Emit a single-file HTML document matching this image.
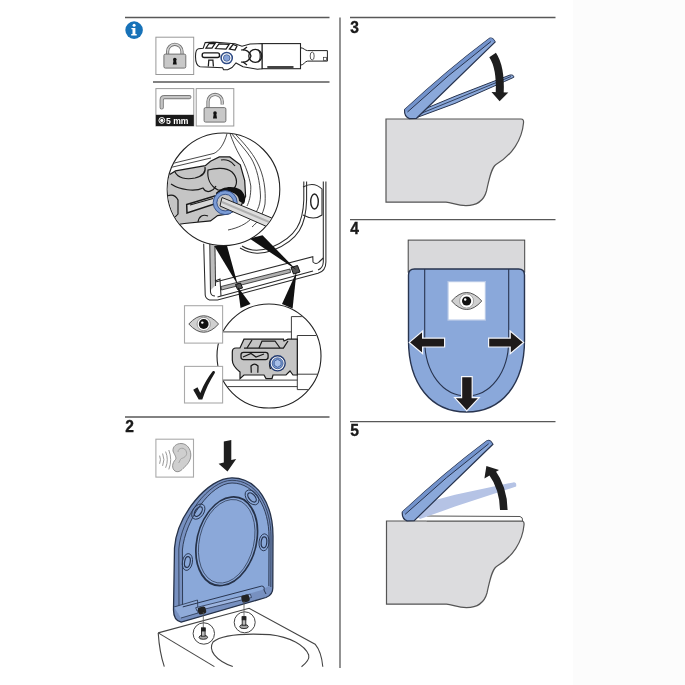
<!DOCTYPE html>
<html><head><meta charset="utf-8">
<style>
html,body{margin:0;padding:0;background:#fff;width:685px;height:685px;overflow:hidden}
svg{display:block}
text{font-family:"Liberation Sans",sans-serif;font-weight:bold}
svg{will-change:transform;filter:blur(0.35px)}
</style></head>
<body>
<svg width="685" height="685" viewBox="0 0 685 685">
<rect x="573" y="0" width="112" height="685" fill="#fcfcfc"/>
<!-- grid lines -->
<g stroke="#585858" stroke-width="1.3" fill="none">
<line x1="125" y1="17.5" x2="329.5" y2="17.5"/>
<line x1="350" y1="17.5" x2="555.5" y2="17.5"/>
<line x1="340" y1="17.5" x2="340" y2="668"/>
<line x1="153" y1="82" x2="329.5" y2="82"/>
<line x1="125" y1="417" x2="329.5" y2="417"/>
<line x1="350" y1="219.6" x2="555.5" y2="219.6"/>
<line x1="350" y1="421.6" x2="555.5" y2="421.6"/>
</g>
<g fill="#1a1a1a" font-size="15.6" stroke="#1a1a1a" stroke-width="0.35">
<text x="350.2" y="32.8">3</text>
<text x="350.2" y="234.2">4</text>
<text x="350.2" y="436.4">5</text>
<text x="125.2" y="432.2">2</text>
</g>

<!-- info icon -->
<circle cx="134.1" cy="30.1" r="8.8" fill="#1772b8"/>
<circle cx="134.1" cy="25.2" r="1.5" fill="#fff"/>
<path d="M131.4,28 h4 v6.1 h1.3 v1.3 h-5.5 v-1.3 h1.3 v-4.8 h-1.1z" fill="#fff"/>

<!-- STEP 3 -->
<defs>
<g id="body">
<path d="M386,119 L521,119 Q524,119 523.5,123 C522,140 512,155 496,164.5 C491,168 489,180 486.5,191 C484,200 477,205.6 466,205.6 C457,205.6 452,202.5 446,202.2 L386,202.2 Z" fill="#dcdcde" stroke="#555" stroke-width="1.2"/>
</g>
<g id="lid">
<path d="M404.6,109.8 Q446,71 489.4,38.4 Q492.5,37 495.2,42 L416.5,118.3 L409.4,118.6 Q404,116.5 404.6,109.8 Z" fill="#8aa8da" stroke="#28344f" stroke-width="1.2"/>
<path d="M404.6,109.8 Q446,71 489.4,38.4 Q492.5,37 494.9,42 L491,41.5 Q448.5,74 407.5,112 Z" fill="#7393cc"/>
<path d="M407.5,112 Q448.5,74 491,41.5" fill="none" stroke="#28344f" stroke-width="1"/>
</g>
</defs>
<g id="s3">
<use href="#body"/>
<!-- seat -->
<path d="M416.9,117.5 L424.8,108.9 L455,96.3 L510,75 Q514,74.5 513.8,77.3 L504.3,81.6 L455,103.4 Z" fill="#8aa8da" stroke="#28344f" stroke-width="1"/>
<path d="M422,113 L455,99.5 L511,76.5" fill="none" stroke="#28344f" stroke-width="0.9"/>
<use href="#lid"/>
<!-- arrow -->
<path d="M492.6,55 C498,63 500.5,75 499.7,93" fill="none" stroke="#1e1e1e" stroke-width="8"/>
<path d="M491.5,92 L508.3,92.5 L499.6,101.3 Z" fill="#1e1e1e"/>
</g>

<!-- STEP 4 -->
<g id="s4">
<rect x="408.2" y="240.1" width="116.5" height="32" fill="#d9d9db" stroke="#444" stroke-width="1"/>
<path d="M408.5,275 Q408.5,269 414.5,269 L518.5,269 Q524.5,269 524.5,275 L524.5,340 C524.5,384 502,412 466.5,412 C431,412 408.5,384 408.5,340 Z" fill="#8aa8da" stroke="#28344f" stroke-width="1.4"/>
<path d="M424.7,269 L424.7,340 C424.7,373 443,396 466.7,396 C490,396 508.7,373 508.7,340 L508.7,269" fill="none" stroke="#28344f" stroke-width="1.1"/>
<rect x="448" y="281.6" width="37.4" height="38.5" fill="#fff" stroke="#b5c7e6" stroke-width="1.2"/>
<path d="M451.6,301 Q466.6,284 481.8,301 Q466.6,318 451.6,301 Z" fill="#d0d0d0" stroke="#555" stroke-width="1"/>
<circle cx="466.6" cy="301" r="7" fill="#fff" stroke="#777" stroke-width="0.6"/>
<circle cx="466.6" cy="301" r="4.6" fill="#111"/>
<circle cx="465.2" cy="299.5" r="1.2" fill="#fff"/>
<g fill="#1e1a1a" stroke="#f4f6fb" stroke-width="1.2">
<path d="M409.3,342.4 L422.6,331 L422.6,338.1 L444.6,338.1 L444.6,347 L422.6,347 L422.6,353.6 Z"/>
<path d="M523.6,342.4 L510.2,331 L510.2,338.1 L488.6,338.1 L488.6,347 L510.2,347 L510.2,353.6 Z"/>
<path d="M466.8,410.9 L454.6,397.6 L461.6,397.6 L461.6,376.6 L472.2,376.6 L472.2,397.6 L479.2,397.6 Z"/>
</g>
</g>

<!-- STEP 5 -->
<g id="s5">
<use href="#body" transform="translate(0.5,402)"/>
<path d="M426.7,516 L520,516.5 Q523,517 522.6,521 L426.7,521" fill="#fff" stroke="#555" stroke-width="1"/>
<!-- faded seat -->
<path d="M417.3,517.1 L427.8,502 L455,494.8 L513.2,482.4 Q517,482 516.1,486.5 L455,506.6 L420,519 Z" fill="#b5c3e5"/>
<use href="#lid" transform="translate(-2.3,402.3)"/>
<!-- arrow up -->
<path d="M503.8,510 C503.6,496 500.5,484 491.5,471.5" fill="none" stroke="#1e1e1e" stroke-width="7.6"/>
<path d="M486.4,466.1 L484.4,478.5 L499,470 Z" fill="#1e1e1e"/>
</g>

<!-- STEP 2 -->
<g id="s2">
<rect x="155.9" y="439.2" width="37.6" height="37.9" fill="#fff" stroke="#aaa" stroke-width="1.1"/>
<path d="M175,471 C171.5,468.5 172,463 175.5,459.5 C177,457.5 174,454 173,451 C172.5,446.5 176.5,443.5 181,443.5 C187,443.5 190.8,449 190.8,455 C190.8,461 187,465 183,468.5 C180.5,471.5 177.5,472.5 175,471 Z" fill="#cfcfcf" stroke="#888" stroke-width="0.9"/>
<path d="M178,452 C178,447.5 185,446.5 186.5,452 C187.5,456 183.5,458 181.5,458.5 C179.5,459.5 180,462 178.5,463" fill="none" stroke="#999" stroke-width="0.8"/>
<g fill="none" stroke="#9a9a9a" stroke-width="1">
<path d="M159.6,455.6 Q161.3,459.7 159.6,463.8"/>
<path d="M162.6,453.5 Q165.2,459.7 162.6,465.9"/>
<path d="M165.6,451.6 Q169,459.7 165.6,467.8"/>
<path d="M168.8,450 Q172.6,459.7 168.8,469.4"/>
</g>
<path d="M223.8,441.4 L231.3,439.9 L231.3,460 L236.2,458.9 L227.5,471.6 L218.6,463.8 L223.8,462.6 Z" fill="#1e1e1e"/>
<!-- seat -->
<path d="M181.2,622.2 C176,621 173.5,616 173.5,610 L174.5,548 C177,515 208,477.8 232,477.8 C258,477.8 273,505 273,536 L272.8,588 C272.8,593 270,596 266,597.5 Z" fill="#7790c0" stroke="#263249" stroke-width="1.3"/>
<path d="M183,612 L182.4,550 C185,520 211,483 232,483 C255,483 269,508 269,537 L268.8,586 L262,590 Z" fill="#8aa8d9"/>
<path d="M179,614 L178.8,549 C181,518 209,480.3 232,480.3 C256,480.3 271,506 271,537 L270.8,587" fill="none" stroke="#263249" stroke-width="0.8"/>
<path d="M182.6,608 L182.4,550 C185,520 211,483 232,483 C255,483 269,508 269,537 L268.8,586" fill="none" stroke="#263249" stroke-width="0.9"/>
<path d="M174,607 L197.5,600 L198,613 L181,618" fill="#90abd9" stroke="#263249" stroke-width="0.8"/>
<ellipse cx="0" cy="0" rx="30.5" ry="44.2" transform="matrix(1,-0.108,-0.1,1,226.7,541.3)" fill="#8ba8d9" stroke="#263249" stroke-width="1.7"/>
<ellipse cx="0" cy="0" rx="28" ry="41.7" transform="matrix(1,-0.108,-0.1,1,226.7,541.3)" fill="none" stroke="#263249" stroke-width="0.7"/>
<g fill="none" stroke="#283550" stroke-width="0.9">
<ellipse cx="198.3" cy="511.6" rx="5.5" ry="8.5" transform="rotate(35 198.3 511.6)"/>
<ellipse cx="198.3" cy="511.6" rx="3" ry="5.5" transform="rotate(35 198.3 511.6)" stroke-width="1.2"/>
<ellipse cx="252" cy="497.4" rx="5.5" ry="8.5" transform="rotate(-40 252 497.4)"/>
<ellipse cx="252" cy="497.4" rx="3" ry="5.5" transform="rotate(-40 252 497.4)" stroke-width="1.2"/>
<ellipse cx="264" cy="542.3" rx="5" ry="8.5" transform="rotate(5 264 542.3)"/>
<ellipse cx="264" cy="542.3" rx="2.8" ry="5.5" transform="rotate(5 264 542.3)" stroke-width="1.2"/>
<ellipse cx="187.4" cy="562" rx="5" ry="8.5" transform="rotate(10 187.4 562)"/>
<ellipse cx="187.4" cy="562" rx="2.8" ry="5.5" transform="rotate(10 187.4 562)" stroke-width="1.2"/>
</g>
<path d="M182.8,606.9 L261.5,586.1 Q265,586 264,590 L266,594" fill="none" stroke="#283550" stroke-width="1"/>
<path d="M195.7,607.7 L250.3,594.1 L251.5,597.5 L197,611 Z" fill="#9db5e0" stroke="#283550" stroke-width="0.8"/>
<g fill="#222">
<rect x="198" y="607" width="8" height="7" rx="2" transform="rotate(-14 202 610.5)"/>
<rect x="241.5" y="595" width="8" height="7" rx="2" transform="rotate(-14 245.5 598.5)"/>
</g>
<!-- bowl -->
<g fill="none" stroke="#444" stroke-width="1.1">
<path d="M158.2,632.9 L249.1,608.3 L315.1,644.2 C320,650 322,658 322.8,666.7"/>
<path d="M158.2,632.9 L214.4,666.6"/>
<path d="M158.2,632.9 C159,645 161,657 164.3,666.6"/>
<path d="M232.8,666.6 C215,660 208,650 213,642 C220,636 240,633 270,634.6 C290,637 305,645 308.7,655 C310,660 305,664 301.5,666.7"/>
</g>
<g fill="#fff" stroke="#444" stroke-width="1">
<circle cx="203.8" cy="633.5" r="10.7"/>
<circle cx="244.7" cy="622.3" r="10.5"/>
</g>
<line x1="203.3" y1="612" x2="203.3" y2="628" stroke="#555" stroke-width="0.8"/>
<line x1="244" y1="601" x2="244" y2="617" stroke="#555" stroke-width="0.8"/>
<g stroke="#222" stroke-width="0.9">
<ellipse cx="203.3" cy="637.3" rx="4.3" ry="2" fill="#aaa"/>
<rect x="201.5" y="628" width="3.6" height="8.2" fill="#bbb"/>
<rect x="201.5" y="628" width="3.6" height="3" fill="#222"/>
<ellipse cx="244" cy="626.6" rx="4.3" ry="2" fill="#aaa"/>
<rect x="242.2" y="616.8" width="3.6" height="8.4" fill="#bbb"/>
<rect x="242.2" y="616.8" width="3.6" height="3" fill="#222"/>
</g>
</g>

<!-- STEP 1 -->
<g id="s1">
<!-- lock box -->
<rect x="155.9" y="37.2" width="37.8" height="37.3" fill="#fff" stroke="#999" stroke-width="1"/>
<path d="M167.6,54.5 V51.5 A7.2,7.2 0 0 1 182,51.5 V54.5" fill="none" stroke="#707070" stroke-width="3.2"/>
<path d="M167.6,54.5 V51.5 A7.2,7.2 0 0 1 182,51.5 V54.5" fill="none" stroke="#d2d2d2" stroke-width="1.5"/>
<rect x="163.9" y="54.1" width="21.9" height="14" rx="1.5" fill="#c8c8c8" stroke="#666" stroke-width="0.9"/>
<circle cx="174.8" cy="59.5" r="1.8" fill="#111"/>
<path d="M173.6,60 L176,60 L176.8,64.5 L172.8,64.5 Z" fill="#111"/>
<!-- hinge mechanism -->
<path d="M300.5,47.7 C304,48 305,50.6 307.6,50.6 L327.4,50.6 L327.4,61.1 L307.6,61.1 C305,61.1 304,65 300.5,65.2 Z" fill="#fff" stroke="#222" stroke-width="1"/>
<ellipse cx="312.2" cy="56" rx="2" ry="4" fill="none" stroke="#333" stroke-width="0.8"/>
<rect x="323.5" y="57.3" width="3" height="3" fill="none" stroke="#333" stroke-width="0.7"/>
<rect x="262" y="43.6" width="38.5" height="25.1" fill="#fff" stroke="#222" stroke-width="1.1"/>
<rect x="267.3" y="66" width="26.2" height="2.7" fill="#444"/>
<path d="M195.5,56.4 C195.5,52 196.5,49 198.6,48.8 L203.2,48.3 L205.2,42.6 L213.4,42.1 L234.9,43.7 L242,46.2 L250,44 L257.4,43.7 L262,43.6 L262,68.7 L257.4,69.2 L243,66.7 L236,63 L232,67.5 L227.7,69.7 L223.6,69.7 L222.6,67.7 L200.1,66.7 C197,66 195.5,61 195.5,56.4 Z" fill="#fff" stroke="#222" stroke-width="1.1"/>
<g fill="none" stroke="#1a1a1a" stroke-width="1.25">
<path d="M206,48 L209,43.5 L215,43.5 L212,48 Z"/>
<path d="M215.5,48.5 L219,43.8 L229,44.5 L226,49 Z"/>
<path d="M229.5,49 L233,44.5 L237,46 L235,50 Z"/>
<rect x="202.2" y="52.9" width="17.3" height="4.6" rx="2" stroke-width="1.4"/>
<path d="M208.3,66.5 L208.8,60 L212.9,60 L213.4,66.5"/>
<path d="M241,50 C246,49 250,52 251,56 C250,60 246,63 241,62"/>
<circle cx="255.3" cy="55.9" r="6.5"/>
<path d="M258,50 C261,52 261,60 258,62"/>
<path d="M243,50 L247,47 M243,62 L247,65"/>
</g>
<circle cx="226.7" cy="58" r="5.6" fill="#fff" stroke="#2d4a85" stroke-width="1.5"/>
<circle cx="226.7" cy="58" r="3.3" fill="#86a3d8" stroke="#2d4a85" stroke-width="0.7"/>

<!-- hex key box -->
<rect x="155.9" y="88.6" width="37.9" height="37.4" fill="#fff" stroke="#999" stroke-width="1"/>
<rect x="155.9" y="114.8" width="37.9" height="11.2" fill="#1a1a1a"/>
<path d="M161.7,107.5 V100 Q161.7,97.1 164.5,97.1 H189.4" fill="none" stroke="#7a7a7a" stroke-width="4.2" stroke-linecap="round"/>
<path d="M161.7,107.5 V100 Q161.7,97.1 164.5,97.1 H189.4" fill="none" stroke="#c4c4c4" stroke-width="2.4" stroke-linecap="round"/>
<circle cx="161.8" cy="120.4" r="2.9" fill="#1a1a1a" stroke="#fff" stroke-width="1"/>
<circle cx="161.8" cy="120.4" r="1.6" fill="#fff"/>
<text x="166" y="124" font-size="8.6" fill="#fff">5 mm</text>
<!-- open lock box -->
<rect x="196.2" y="88.6" width="37.6" height="37.4" fill="#fff" stroke="#999" stroke-width="1"/>
<path d="M208,108 V101.5 A7.1,7.1 0 0 1 222.2,101.5 V104.5" fill="none" stroke="#707070" stroke-width="3.2"/>
<path d="M208,108 V101.5 A7.1,7.1 0 0 1 222.2,101.5 V104.5" fill="none" stroke="#d2d2d2" stroke-width="1.5"/>
<rect x="204.1" y="107.6" width="21.8" height="14.5" rx="1.5" fill="#c8c8c8" stroke="#666" stroke-width="0.9"/>
<circle cx="215" cy="113" r="1.8" fill="#111"/>
<path d="M213.8,113.5 L216.2,113.5 L217,118.5 L213,118.5 Z" fill="#111"/>

<!-- seat frame underside -->
<path d="M210.2,244 L210.8,290 L214.8,286 L214.4,246 Z" fill="#bdbdbd"/>
<g fill="none" stroke="#2a2a2a" stroke-width="1.05">
<path d="M203.7,243.7 L205.2,295 Q205.5,298.5 209.5,300 L217.5,300 L318,273.3 Q325.9,271 325.9,262 L325.9,181.4"/>
<path d="M209.8,244 L210.5,292 Q211,296 215,296"/>
<path d="M214.9,246 L215.5,286"/>
<path d="M323.3,181.4 L323.3,262 Q323,268 318,270"/>
<path d="M306.6,181.4 L306.6,200 C306,225 299,240 272.5,250.5 C262,254 252,255 240,248"/>
<path d="M303.8,181.4 L303.8,200 C303,222 297,237 271,247.5 C261,251 251,252 242,246"/>
<path d="M215.5,282 L312.8,256.7 L313,262 Q316,265 319,262 L323.3,258"/>
<path d="M217.5,297 L313,271"/>
<path d="M215,281 L220,279 L221,296"/>
<path d="M303,187 Q314,181 322,189 L322,215 Q314,221 303,215"/>
</g>
<ellipse cx="314.5" cy="201.5" rx="3.8" ry="7.5" fill="none" stroke="#222" stroke-width="1.4"/>
<!-- hinges -->
<path d="M221,286.5 L290,269 L290.5,272.5 L221.5,290 Z" fill="#b0b0b0" stroke="#222" stroke-width="0.8"/>
<g fill="#555" stroke="#111" stroke-width="1">
<path d="M235.5,284.5 L240.5,283 L242.5,288 L237.5,289.5 Z"/>
<path d="M291,267.5 L297.5,265.5 L300,272 L293.5,274 Z"/>
</g>
<!-- wedges -->
<g fill="#111">
<path d="M214.3,246 L227,245.8 L237.8,285 Z"/>
<path d="M249.5,238.5 L262.5,235.3 L296.5,270 Z"/>
<path d="M237.8,287 L240.5,308 L250.5,304 Z"/>
<path d="M296.5,272 L282,304 L292.6,308.5 Z"/>
</g>

<!-- big circle -->
<circle cx="223.5" cy="189.3" r="56.3" fill="#fff" stroke="#222" stroke-width="1.1"/>
<clipPath id="c1"><circle cx="223.5" cy="189.3" r="55.8"/></clipPath>
<g clip-path="url(#c1)">
<g fill="none" stroke="#333" stroke-width="0.9">
<path d="M160,166.5 L214,153.4 C219,151 224,145 227.2,133"/>
<path d="M160,170 L211,158"/>
<path d="M229.8,133 C233,142 236,149 240,156 C246,166 249,176 250.8,186 C251,196 249,202 247,206"/>
<path d="M231.6,133.5 C238,142 246,150 251,158 C257,168 260,182 260.5,196 C260.5,206 256,214 250.8,219.1 C246,224 238,228 228,230"/>
<path d="M234,133 C242,141 252,152 257,162 C264,175 266,190 265,204 C263,215 258,222 252,227"/>
</g>
<path d="M167,176 L168.5,175.3 L175.5,170.9 L205.3,165.7 L210.5,161.3 L219.3,156.9 L229.8,156.9 L240.3,164.8 L244.7,180.6 L245.6,196.3 L240,208 L228,214 L217.6,215.6 L210.5,220.9 L184.3,223.5 L168.5,226 L160,228 L160,176 Z" fill="#c5c5c5" stroke="#1a1a1a" stroke-width="1.2"/>
<g fill="none" stroke="#1a1a1a" stroke-width="1.2">
<path d="M175,172 C178,178 186,180 195,178 C203,176 206,172 205,167"/>
<path d="M171,184 C180,190 195,192 203,188 C207,195 214,190 216,186"/>
<path d="M208,170 C215,168 226,167 232,172 C238,178 238,186 232,190 L218,190 C210,186 207,178 208,170 Z"/>
<path d="M221,160 C226,159 232,161 235,166"/>
<path d="M186.7,204.5 L215.6,195.8 L216,203.5 L187,213 Z" fill="#d8d8d8" stroke-width="1.5"/>
<path d="M190,205 L213,198.5"/>
<path d="M167,196 C172,194 176,196 178,200 L178,214 C174,219 170,220 167,220"/>
<path d="M198,222 C199,216 203,214 208,216"/>
</g>
<path d="M215.8,193 C222,186 234,185 241,190 C246,195 246,201 243.8,204 L239,201 C239,196 235,192 228,192 C222,192 219,195 218,197 Z" fill="#111"/>
<circle cx="225.2" cy="202.6" r="10.2" fill="none" stroke="#7b9cd6" stroke-width="3.6"/>
<circle cx="225.2" cy="202.6" r="12" fill="none" stroke="#2d4a85" stroke-width="0.9"/>
<circle cx="225.2" cy="202.6" r="8.3" fill="none" stroke="#2d4a85" stroke-width="0.9"/>
<path d="M222,197.5 L290,225.5 L286,235 L220,206 Z" fill="#dedede" stroke="#222" stroke-width="1"/>
<path d="M222,202 L288,230" stroke="#b0b0b0" stroke-width="2"/>
</g>

<!-- lower circle -->
<circle cx="269" cy="356" r="52" fill="#fff" stroke="#222" stroke-width="1.1"/>
<clipPath id="c2"><circle cx="269" cy="356" r="51.5"/></clipPath>
<g clip-path="url(#c2)">
<g fill="none" stroke="#333" stroke-width="0.95">
<path d="M210,331.9 L291.4,331.9"/>
<path d="M291.4,339.2 L291.4,316.6 L330,316.6"/>
<path d="M297.3,389.6 L297.3,335.5 L330,335.5"/>
<path d="M297.3,374.2 L330,374.2"/>
<path d="M210,380.1 L297.3,380.1"/>
<path d="M210,386.6 L297.3,386.6"/>
<path d="M297.3,389.6 L330,389.6"/>
</g>
<path d="M232.3,352 Q232.3,348 236,348 L240,348 L244,339.2 L283.4,339.2 L284,341 L288,339.2 L297.3,339.2 L297.3,375 L293,375 L290,371 L286,375 L273,375 L272,378.6 L266,378.6 L264,375 L244,375 L240,378.6 L240,372 Q232.3,366 232.3,360 Z" fill="#c5c5c5" stroke="#1a1a1a" stroke-width="1.2"/>
<g fill="none" stroke="#1a1a1a" stroke-width="1.25">
<path d="M244,348 L283.4,348 L288,341"/>
<path d="M247,348 L252,340 M259,348 L262,341 L275,341 L280,348"/>
<rect x="241" y="352.3" width="27.1" height="7.3" rx="2.5" stroke-width="1.3"/>
<path d="M243,357 L251,353.5 L256,357 L264,354"/>
<path d="M251.3,372.8 L251,366 Q254.5,362 258,366 L257.8,372.8"/>
<path d="M270.5,369 Q268,362 272,358"/>
</g>
<circle cx="277.6" cy="363.3" r="7.6" fill="#fff" stroke="#223a70" stroke-width="1.4"/>
<circle cx="277.6" cy="363.3" r="5.5" fill="#7e9ed6" stroke="#2d4a85" stroke-width="0.8"/>
<path d="M277.6,359.3 L281,361.3 L281,365.3 L277.6,367.3 L274.2,365.3 L274.2,361.3 Z" fill="#a8bfe8" stroke="#2d4a85" stroke-width="0.7"/>
</g>
<!-- eye box -->
<rect x="184.5" y="305.7" width="38.1" height="37.4" fill="#fff" stroke="#aaa" stroke-width="1.1"/>
<path d="M188.8,324 Q203.7,307.5 218.6,324 Q203.7,340.5 188.8,324 Z" fill="#d0d0d0" stroke="#555" stroke-width="1"/>
<circle cx="203.7" cy="324" r="6.6" fill="#fff" stroke="#666" stroke-width="0.6"/>
<circle cx="203.7" cy="324" r="4.9" fill="#111"/>
<circle cx="202.3" cy="322.6" r="1.2" fill="#fff"/>
<!-- check box -->
<rect x="184.5" y="366.4" width="38.1" height="36.6" fill="#fff" stroke="#aaa" stroke-width="1.1"/>
<path d="M193.2,389.8 L197.5,387.2 L200.3,393 C204,384 208,377 212.5,371.5 C214,370.5 215.5,371.5 214.8,373 C210,380.5 205.5,389.5 202.3,399.4 L198.7,399.6 Z" fill="#1a1a1a"/>
</g>
</svg>
</body></html>
